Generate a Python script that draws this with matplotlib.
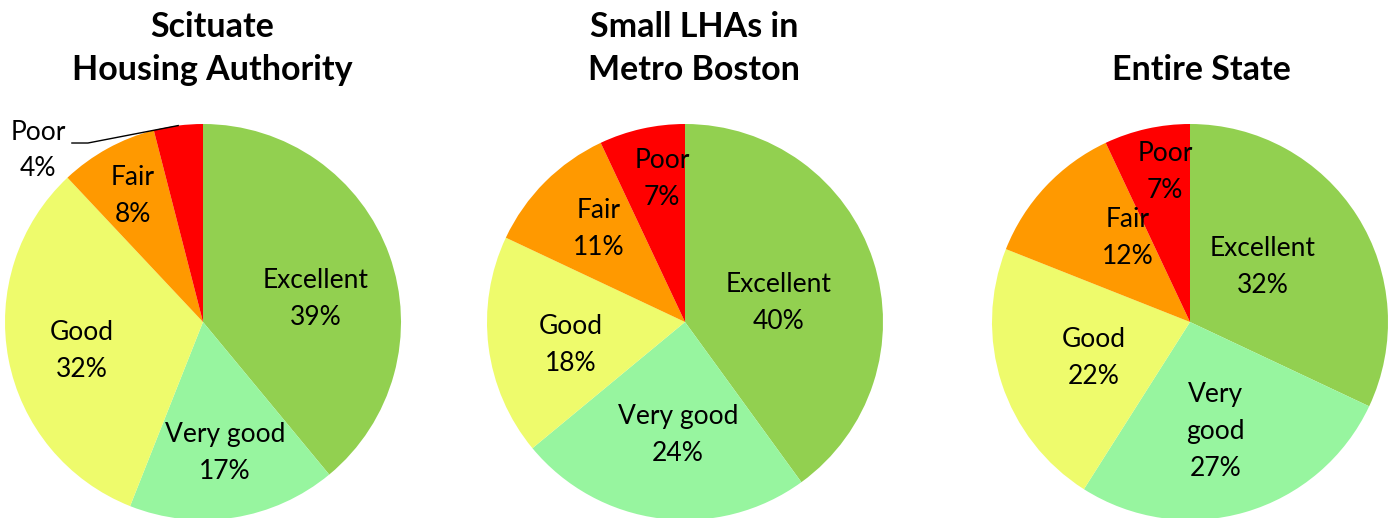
import matplotlib.pyplot as plt
import numpy as np

plt.rcParams['font.family'] = ['Lato', 'DejaVu Sans']

categories = ['Excellent', 'Very good', 'Good', 'Fair', 'Poor']
colors = ['#92D050', '#97F59F', '#EEFB6C', '#FF9900', '#FF0000']

titles = ['Scituate\nHousing Authority', 'Small LHAs in\nMetro Boston', 'Entire State']
scituate = [39, 17, 32, 8, 4]
metro = [40, 24, 18, 11, 7]
state = [32, 27, 22, 12, 7]

# label names as they appear in each pie
names = [
    ['Excellent', 'Very good', 'Good', 'Fair', 'Poor'],
    ['Excellent', 'Very good', 'Good', 'Fair', 'Poor'],
    ['Excellent', 'Very\ngood', 'Good', 'Fair', 'Poor'],
]
# label placement (radius fraction, angle in degrees); None = outside label
label_pos = [
    [(0.58, 11.5), (0.67, -80.4), (0.63, 193.5), (0.73, 119.0), None],
    [(0.48, 11.5), (0.57, -93.6), (0.59, 191.4), (0.64, 132.7), (0.73, 99.2)],
    [(0.46, 36.9), (0.57, -77.0), (0.52, 200.4), (0.53, 126.5), (0.77, 99.5)],
]

W, H = 1392, 518
fig = plt.figure(figsize=(W / 100, H / 100), dpi=100)

centers_x = [203, 685, 1190]
center_y = 322
R = 198

for k, vals in enumerate([scituate, metro, state]):
    cx = centers_x[k]
    ax = fig.add_axes([(cx - R) / W, (H - center_y - R) / H, 2 * R / W, 2 * R / H])
    wedges, _ = ax.pie(vals, colors=colors, startangle=90, counterclock=False,
                       radius=1.0, wedgeprops=dict(linewidth=0))
    ax.set_xlim(-1, 1)
    ax.set_ylim(-1, 1)
    ax.set_aspect('equal')
    ax.axis('off')
    for i, w in enumerate(wedges):
        txt = f"{names[k][i]}\n{vals[i]}%"
        if label_pos[k][i] is None:
            # outside label with leader line to wedge edge
            mid = np.deg2rad((w.theta1 + w.theta2) / 2)
            ex, ey = np.cos(mid), np.sin(mid)
            ax.plot([-0.662, -0.581, ex], [0.904, 0.904, ey], color='black',
                    lw=1, clip_on=False)
            ax.text(-0.833, 0.866, txt, ha='center', va='center',
                    fontsize=19, linespacing=1.55)
            continue
        r, ang = label_pos[k][i]
        a = np.deg2rad(ang)
        ax.text(r * np.cos(a), r * np.sin(a), txt, ha='center', va='center',
                fontsize=19, linespacing=1.6)

title_x = [212, 694, 1201]
title_y = [48.5, 48.5, 70]
for k, t in enumerate(titles):
    fig.text(title_x[k] / W, 1 - title_y[k] / H, t, ha='center', va='center',
             fontsize=24.5, fontweight='bold', linespacing=1.45)

fig.savefig('out.png', dpi=100)
